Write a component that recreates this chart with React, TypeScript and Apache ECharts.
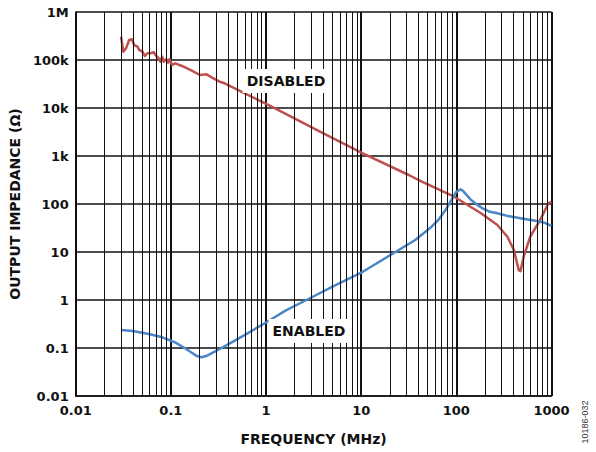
import React, { useEffect, useRef } from "react";
import * as echarts from "echarts";

const xTickLabels = ["0.01", "0.1", "1", "10", "100", "1000"];
const yTickLabels = ["0.01", "0.1", "1", "10", "100", "1k", "10k", "100k", "1M"];
const decades = [0.01, 0.1, 1, 10, 100];
const minorMultipliers = [2, 3, 4, 5, 6, 7, 8, 9];

const disabledFreq = [
  0.03, 0.0317, 0.0338, 0.0365, 0.039, 0.0412, 0.0447, 0.0464, 0.0503, 0.0535,
  0.0567, 0.0613, 0.0663, 0.0691, 0.0748, 0.0778, 0.0811, 0.0842, 0.0891, 0.0935,
  0.0972, 0.103, 0.111, 0.131, 0.166, 0.202, 0.237, 0.267, 0.326, 0.367,
  1.16, 3.69, 10.4, 31.6, 43.4, 96, 181.5, 270, 344, 402, 453, 472, 510, 598, 760, 927, 1000,
];
const disabledZ = [
  305000, 149000, 175000, 261000, 270000, 205000, 189000, 162000, 149000, 121000,
  138000, 138000, 145000, 127000, 108000, 92000, 117000, 92000, 103000, 88000,
  103000, 78700, 85300, 75000, 59800, 48700, 50300, 43600, 35300, 32700,
  10600, 3210, 1140, 402, 292, 140, 64, 36.5, 20.8, 11, 4.2, 4.0, 8, 20.8, 46.4, 103, 110,
];

const enabledFreq = [
  0.03, 0.0396, 0.0589, 0.0811, 0.111, 0.141, 0.187, 0.21, 0.235, 0.289, 0.34, 0.431, 0.64,
  1.0, 1.6, 2.66, 5.0, 10.0, 22.9, 37, 55, 64.6, 76, 88.7, 100, 111, 117, 128, 143,
  165, 189, 220, 270, 350, 472, 675, 850, 1000,
];
const enabledZ = [
  0.237, 0.226, 0.196, 0.167, 0.131, 0.0986, 0.068, 0.064, 0.068, 0.0838, 0.1, 0.129, 0.202,
  0.34, 0.6, 1.0, 1.9, 3.7, 10.0, 17.8, 33.7, 46.4, 72, 121, 180, 202, 189, 155, 121,
  97, 81, 70, 64, 56, 50.4, 44.9, 40.5, 35,
];

const FONT = "DejaVu Sans";

export default function App() {
  const ref = useRef<HTMLDivElement>(null);

  useEffect(() => {
    document.body.style.margin = "0";
    if (!ref.current) return;
    const chart = echarts.init(ref.current, null, { renderer: "svg" });

    const minorLines: { xAxis: number }[] = [];
    decades.forEach((d) => minorMultipliers.forEach((m) => minorLines.push({ xAxis: d * m })));

    const disabledData = disabledFreq.map((f, i) => [f, disabledZ[i]]);
    const enabledData = enabledFreq.map((f, i) => [f, enabledZ[i]]);

    chart.setOption({
      animation: false,
      backgroundColor: "#ffffff",
      grid: { left: 69, right: 44.5, top: 12, bottom: 56 },
      xAxis: {
        type: "log",
        logBase: 10,
        min: 0.01,
        max: 1000,
        name: "FREQUENCY (MHz)",
        nameLocation: "middle",
        nameGap: 36,
        nameTextStyle: { fontFamily: FONT, fontWeight: "bold", fontSize: 14, color: "#111" },
        axisLine: { show: true, lineStyle: { color: "#111", width: 1.5 } },
        axisTick: { show: false },
        axisLabel: {
          fontFamily: FONT,
          fontWeight: "bold",
          fontSize: 13,
          color: "#111",
          margin: 8,
          formatter: (v: number) => xTickLabels[Math.round(Math.log10(v)) + 2],
        },
        splitLine: { show: true, lineStyle: { color: "#111", width: 2 } },
      },
      yAxis: {
        type: "log",
        logBase: 10,
        min: 0.01,
        max: 1000000,
        name: "OUTPUT IMPEDANCE (Ω)",
        nameLocation: "middle",
        nameGap: 49,
        nameTextStyle: { fontFamily: FONT, fontWeight: "bold", fontSize: 14, color: "#111" },
        axisLine: { show: true, lineStyle: { color: "#111", width: 1.5 } },
        axisTick: { show: false },
        axisLabel: {
          fontFamily: FONT,
          fontWeight: "bold",
          fontSize: 13,
          color: "#111",
          margin: 7,
          formatter: (v: number) => yTickLabels[Math.round(Math.log10(v)) + 2],
        },
        splitLine: { show: true, lineStyle: { color: "#111", width: 1.5 } },
      },
      series: [
        {
          type: "line",
          name: "minor",
          data: [],
          z: 1,
          silent: true,
          markLine: {
            silent: true,
            symbol: ["none", "none"],
            label: { show: false },
            lineStyle: { color: "#111", width: 1, type: "solid" },
            emphasis: { disabled: true },
            data: minorLines,
          },
        },
        {
          type: "line",
          name: "DISABLED",
          data: disabledData,
          showSymbol: false,
          smooth: false,
          z: 3,
          lineStyle: { color: "#c0504d", width: 2.5, join: "round" },
        },
        {
          type: "line",
          name: "ENABLED",
          data: enabledData,
          showSymbol: false,
          smooth: false,
          z: 4,
          lineStyle: { color: "#4a86c8", width: 2.5, join: "round" },
        },
      ],
      graphic: [
        {
          type: "text",
          x: 286,
          y: 81,
          z: 10,
          style: {
            text: "DISABLED",
            font: `bold 14px "${FONT}"`,
            fill: "#111",
            align: "center",
            verticalAlign: "middle",
            backgroundColor: "#ffffff",
            padding: [5, 4],
          },
        },
        {
          type: "text",
          x: 309,
          y: 331,
          z: 10,
          style: {
            text: "ENABLED",
            font: `bold 14px "${FONT}"`,
            fill: "#111",
            align: "center",
            verticalAlign: "middle",
            backgroundColor: "#ffffff",
            padding: [5, 4],
          },
        },
        {
          type: "text",
          x: 585,
          y: 422,
          rotation: Math.PI / 2,
          style: {
            text: "10186-032",
            font: `9px "Liberation Sans"`,
            fill: "#333",
            align: "center",
            verticalAlign: "middle",
          },
        },
      ],
    });

    return () => chart.dispose();
  }, []);

  return <div ref={ref} style={{ width: 596, height: 452 }} />;
}
